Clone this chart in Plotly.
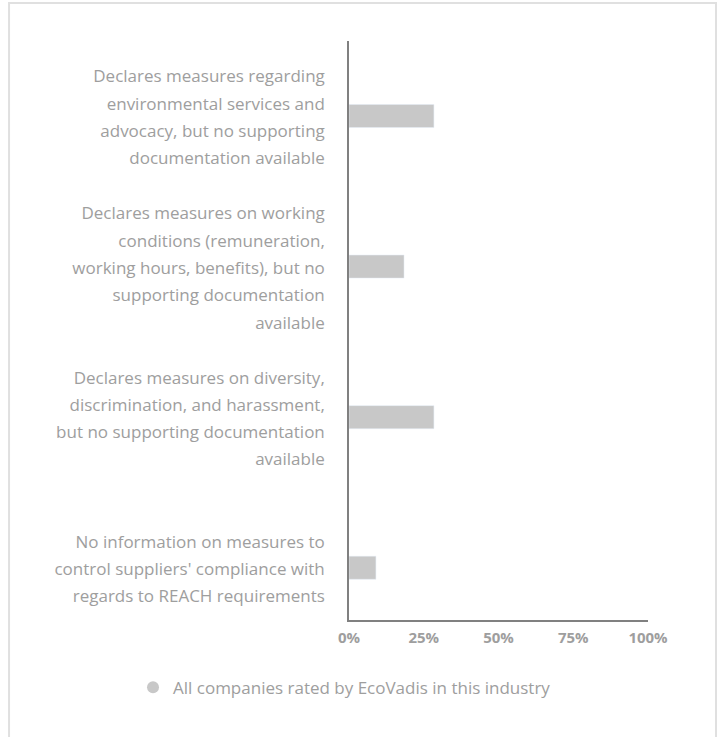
import plotly.graph_objects as go

# Data
categories = [
    "Declares measures regarding<br>environmental services and<br>advocacy, but no supporting<br>documentation available",
    "Declares measures on working<br>conditions (remuneration,<br>working hours, benefits), but no<br>supporting documentation<br>available",
    "Declares measures on diversity,<br>discrimination, and harassment,<br>but no supporting documentation<br>available",
    "No information on measures to<br>control suppliers' compliance with<br>regards to REACH requirements",
]
values = [28.4, 18.4, 28.4, 9.0]
x_ticks = [0, 25, 50, 75, 100]
x_tick_labels = ["0%", "25%", "50%", "75%", "100%"]
series_name = "All companies rated by EcoVadis in this industry"

TEXT_GREY = "#9e9e9e"
BAR_GREY = "#c8c8c8"
AXIS_GREY = "#808080"


def small_lines(label, size=17):
    # wrap each line in a smaller span so line spacing stays wide
    parts = label.split("<br>")
    return "<br>".join(f'<span style="font-size:{size}px">{p}</span>' for p in parts)


fig = go.Figure()

fig.add_trace(go.Bar(
    x=values,
    y=categories,
    orientation="h",
    marker_color=BAR_GREY,
    width=0.153,
    showlegend=False,
    hoverinfo="x+y",
))

# legend entry shown as a circle
fig.add_trace(go.Scatter(
    x=[None], y=[None],
    mode="markers",
    name=series_name,
    marker=dict(symbol="circle", size=15, color=BAR_GREY),
))

fig.update_layout(
    width=723,
    height=737,
    margin=dict(l=349, r=75, t=41, b=117),
    paper_bgcolor="white",
    plot_bgcolor="white",
    font=dict(family="Open Sans", color=TEXT_GREY),
    showlegend=True,
    legend=dict(
        orientation="h",
        x=-0.015, xanchor="center",
        y=-0.117, yanchor="middle",
        font=dict(size=17, color=TEXT_GREY),
        itemsizing="constant",
    ),
    xaxis=dict(
        range=[0, 100],
        tickvals=x_ticks,
        ticktext=[f"<b>{t}</b>" for t in x_tick_labels],
        tickfont=dict(size=15, color=TEXT_GREY),
        ticklabelstandoff=3,
        showgrid=False,
        zeroline=False,
        showline=True,
        linecolor=AXIS_GREY,
        linewidth=2,
        fixedrange=True,
    ),
    yaxis=dict(
        type="category",
        range=[3.347, -0.498],
        tickvals=categories,
        ticktext=[small_lines(c) for c in categories],
        tickfont=dict(size=21, color=TEXT_GREY),
        ticklabelstandoff=18,
        showgrid=False,
        zeroline=False,
        showline=True,
        linecolor=AXIS_GREY,
        linewidth=2,
        fixedrange=True,
    ),
    shapes=[dict(
        type="rect", xref="paper", yref="paper",
        x0=-1.137, x1=1.2274, y0=-0.25, y1=1.0656,
        line=dict(color="#e0e0e0", width=2),
        layer="below",
    )],
)

# drop the default 8px body margin so the figure sits at the page corner
fig.write_html(
    "out.html",
    config={"displayModeBar": False},
    post_script="document.body.style.margin='0';",
)
